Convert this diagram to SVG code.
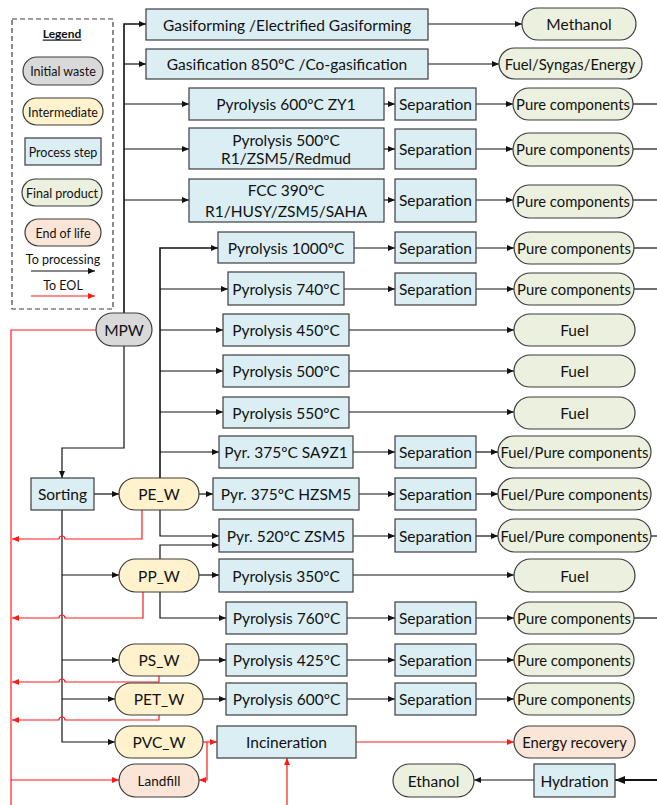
<svg xmlns="http://www.w3.org/2000/svg" width="657" height="805" viewBox="0 0 657 805">
<style>
text{font-family:Lato,"Liberation Sans",sans-serif;font-size:15.5px;fill:#111;text-anchor:middle;dominant-baseline:central}
.lg text{font-size:12.5px}
.pc{font-size:14.8px}
rect{stroke:#3c3c3c;stroke-width:1.2}
.proc{fill:#dbeef4}
.fin{fill:#ebf1de}
.int{fill:#fff2cc}
.init{fill:#d9d9d9}
.eol{fill:#fbe5d6}
.k{fill:none;stroke:#111;stroke-width:1.2}
.t{stroke-width:1.6}
.r{fill:none;stroke:#ff1a1a;stroke-width:1.2}
.ka{marker-end:url(#ab)}
.ra{marker-end:url(#ar)}
</style>
<defs>
<marker id="ab" markerWidth="8" markerHeight="8" refX="7" refY="4" orient="auto" markerUnits="userSpaceOnUse"><path d="M0,1 L7,4 L0,7 z" fill="#111"/></marker>
<marker id="ar" markerWidth="8" markerHeight="8" refX="7" refY="4" orient="auto" markerUnits="userSpaceOnUse"><path d="M0,1 L7,4 L0,7 z" fill="#ff1a1a"/></marker>
<marker id="abig" markerWidth="12" markerHeight="12" refX="10" refY="5" orient="auto" markerUnits="userSpaceOnUse"><path d="M0,1 L10,5 L0,9 z" fill="#111"/></marker>
</defs>

<g id="legend" class="lg">
<rect x="12" y="19" width="101" height="290" fill="none" stroke="#444" stroke-dasharray="5,3"/>
<text x="62" y="33" font-weight="bold" text-decoration="underline" style="font-size:12px">Legend</text>
<rect class="init" x="23" y="57" width="80" height="28" rx="14"/><text x="63" y="71">Initial waste</text>
<rect class="int" x="23" y="98" width="80" height="27" rx="13.5"/><text x="63" y="112">Intermediate</text>
<rect class="proc" x="25" y="138" width="76" height="27"/><text x="63" y="152">Process step</text>
<rect class="fin" x="22" y="179" width="80" height="27" rx="13.5"/><text x="62" y="193">Final product</text>
<rect class="eol" x="25" y="219" width="76" height="27" rx="13.5"/><text x="63" y="233">End of life</text>
<text x="63" y="259">To processing</text>
<path class="k ka" d="M31,271 H95"/>
<text x="63" y="285">To EOL</text>
<path class="r ra" d="M31,296 H95"/>
</g>

<g id="connectors">
<path class="k t ka" d="M124,313 V24 H146"/>
<path class="k ka" d="M124,64 H146"/>
<path class="k ka" d="M124,104 H189"/>
<path class="k ka" d="M124,149 H189"/>
<path class="k ka" d="M124,200 H189"/>
<path class="k ka" d="M428,24 H522"/>
<path class="k ka" d="M428,64 H499"/>
<path class="k ka" d="M384,104 H395"/><path class="k ka" d="M476,104 H513"/><path class="k" d="M633,104 H657"/>
<path class="k ka" d="M384,149 H395"/><path class="k ka" d="M476,149 H513"/><path class="k" d="M633,149 H657"/>
<path class="k ka" d="M384,200 H395"/><path class="k ka" d="M476,200 H513"/><path class="k" d="M633,200 H657"/>
<path class="k t ka" d="M160,478 V248 H218"/>
<path class="k ka" d="M160,289 H228"/>
<path class="k ka" d="M160,330 H223"/>
<path class="k ka" d="M160,371 H223"/>
<path class="k ka" d="M160,412 H223"/>
<path class="k ka" d="M160,452 H219"/>
<path class="k ka" d="M354,248 H395"/><path class="k ka" d="M476,248 H514"/><path class="k" d="M634,248 H657"/>
<path class="k ka" d="M344,289 H395"/><path class="k ka" d="M476,289 H514"/><path class="k" d="M634,289 H657"/>
<path class="k ka" d="M349,330 H514"/>
<path class="k ka" d="M349,371 H514"/>
<path class="k ka" d="M349,412 H514"/>
<path class="k ka" d="M353,452 H395"/><path class="k ka" d="M476,452 H498"/>
<path class="k ka" d="M199,494 H213"/><path class="k ka" d="M359,494 H395"/><path class="k ka" d="M476,494 H498"/>
<path class="k ka" d="M160,510 V536 H219"/>
<path class="k ka" d="M160,559 V545 H219"/>
<path class="k ka" d="M353,536 H395"/><path class="k ka" d="M476,536 H498"/><path class="k" d="M651,536 H657"/>
<path class="k ka" d="M124,346 V448 H62 V478"/>
<path class="k ka" d="M94,494 H119"/>
<path class="k ka" d="M62,510 V742 H115"/>
<path class="k ka" d="M62,575 H119"/>
<path class="k ka" d="M62,660 H119"/>
<path class="k ka" d="M62,699 H115"/>
<path class="k ka" d="M199,575 H219"/><path class="k ka" d="M353,575 H514"/>
<path class="k ka" d="M160,592 V618 H226"/><path class="k ka" d="M347,618 H395"/><path class="k ka" d="M476,618 H514"/><path class="k" d="M634,618 H657"/>
<path class="k ka" d="M199,660 H226"/><path class="k ka" d="M347,660 H395"/><path class="k ka" d="M476,660 H514"/>
<path class="k ka" d="M203,699 H226"/><path class="k ka" d="M347,699 H395"/><path class="k ka" d="M476,699 H514"/>
<path class="k" d="M657,780 H615" style="stroke-width:2.2;marker-end:url(#abig)"/>
<path class="k ka" d="M534,780 H474"/>
<path class="r" d="M96,330 H11 V805"/>
<path class="r ra" d="M11,780 H119"/>
<path class="r ra" d="M142,510 V539 H65 A3,3 0 0 0 59,539 H12"/>
<path class="r ra" d="M143,592 V618 H65 A3,3 0 0 0 59,618 H12"/>
<path class="r ra" d="M159,676 V682 H65 A3,3 0 0 0 59,682 H12"/>
<path class="r ra" d="M159,715 V720 H65 A3,3 0 0 0 59,720 H12"/>
<path class="r ra" d="M203,742 H217"/>
<path class="r ra" d="M207,742 V780 H199"/>
<path class="r ra" d="M356,742 H514"/>
<path class="r ra" d="M287,805 V758"/>
</g>

<g id="n-gasiforming"><rect class="proc" x="146" y="9" width="282" height="31"/><text x="287" y="24.5">Gasiforming /Electrified Gasiforming</text></g>
<g id="n-methanol"><rect class="fin" x="522" y="8" width="114" height="32" rx="16"/><text x="579" y="24">Methanol</text></g>
<g id="n-gasification"><rect class="proc" x="146" y="49" width="282" height="30"/><text x="287" y="64">Gasification 850ºC /Co-gasification</text></g>
<g id="n-fuelsyngas"><rect class="fin" x="499" y="48" width="143" height="31" rx="15.5"/><text class="pc" x="570" y="64">Fuel/Syngas/Energy</text></g>

<g id="n-pyr600zy1"><rect class="proc" x="189" y="88" width="195" height="32"/><text x="286" y="104">Pyrolysis 600ºC ZY1</text></g>
<g id="n-sep1"><rect class="proc" x="395" y="88" width="81" height="32"/><text x="435.5" y="104">Separation</text></g>
<g id="n-pure1"><rect class="fin" x="513" y="88" width="120" height="32" rx="16"/><text class="pc" x="573" y="104">Pure components</text></g>

<g id="n-pyr500r1"><rect class="proc" x="189" y="128" width="195" height="41"/><text x="286" y="140">Pyrolysis 500ºC</text><text x="286" y="158">R1/ZSM5/Redmud</text></g>
<g id="n-sep2"><rect class="proc" x="395" y="129" width="81" height="40"/><text x="435.5" y="149">Separation</text></g>
<g id="n-pure2"><rect class="fin" x="513" y="133" width="120" height="33" rx="16.5"/><text class="pc" x="573" y="149">Pure components</text></g>

<g id="n-fcc"><rect class="proc" x="189" y="179" width="195" height="43"/><text x="286" y="190">FCC 390ºC</text><text x="286" y="211">R1/HUSY/ZSM5/SAHA</text></g>
<g id="n-sep3"><rect class="proc" x="395" y="179" width="81" height="43"/><text x="435.5" y="200">Separation</text></g>
<g id="n-pure3"><rect class="fin" x="513" y="185" width="120" height="33" rx="16.5"/><text class="pc" x="573" y="201">Pure components</text></g>

<g id="n-pyr1000"><rect class="proc" x="218" y="232" width="136" height="31"/><text x="286" y="248">Pyrolysis 1000ºC</text></g>
<g id="n-sep4"><rect class="proc" x="395" y="232" width="81" height="31"/><text x="435.5" y="248">Separation</text></g>
<g id="n-pure4"><rect class="fin" x="514" y="232" width="120" height="32" rx="16"/><text class="pc" x="574" y="248">Pure components</text></g>

<g id="n-pyr740"><rect class="proc" x="228" y="272" width="116" height="33"/><text x="286" y="289">Pyrolysis 740ºC</text></g>
<g id="n-sep5"><rect class="proc" x="395" y="273" width="81" height="32"/><text x="435.5" y="289">Separation</text></g>
<g id="n-pure5"><rect class="fin" x="514" y="273" width="120" height="32" rx="16"/><text class="pc" x="574" y="289">Pure components</text></g>

<g id="n-pyr450"><rect class="proc" x="223" y="314" width="126" height="32"/><text x="286" y="330">Pyrolysis 450ºC</text></g>
<g id="n-fuel1"><rect class="fin" x="514" y="314" width="121" height="32" rx="16"/><text x="574.5" y="330">Fuel</text></g>
<g id="n-pyr500"><rect class="proc" x="223" y="355" width="126" height="32"/><text x="286" y="371">Pyrolysis 500ºC</text></g>
<g id="n-fuel2"><rect class="fin" x="514" y="355" width="121" height="32" rx="16"/><text x="574.5" y="371">Fuel</text></g>
<g id="n-pyr550"><rect class="proc" x="223" y="397" width="126" height="31"/><text x="286" y="412.5">Pyrolysis 550ºC</text></g>
<g id="n-fuel3"><rect class="fin" x="514" y="397" width="121" height="32" rx="16"/><text x="574.5" y="413">Fuel</text></g>

<g id="n-pyr375sa"><rect class="proc" x="219" y="436" width="134" height="32"/><text x="286" y="452">Pyr. 375ºC SA9Z1</text></g>
<g id="n-sep6"><rect class="proc" x="395" y="436" width="81" height="32"/><text x="435.5" y="452">Separation</text></g>
<g id="n-fp1"><rect class="fin" x="498" y="436" width="153" height="32" rx="16"/><text class="pc" x="574.5" y="452">Fuel/Pure components</text></g>

<g id="n-pyr375hz"><rect class="proc" x="213" y="478" width="146" height="32"/><text x="286" y="494">Pyr. 375ºC HZSM5</text></g>
<g id="n-sep7"><rect class="proc" x="395" y="478" width="81" height="32"/><text x="435.5" y="494">Separation</text></g>
<g id="n-fp2"><rect class="fin" x="498" y="478" width="153" height="32" rx="16"/><text class="pc" x="574.5" y="494">Fuel/Pure components</text></g>

<g id="n-pyr520"><rect class="proc" x="219" y="519" width="134" height="33"/><text x="286" y="535.5">Pyr. 520ºC ZSM5</text></g>
<g id="n-sep8"><rect class="proc" x="395" y="519" width="81" height="33"/><text x="435.5" y="535.5">Separation</text></g>
<g id="n-fp3"><rect class="fin" x="498" y="519" width="153" height="33" rx="16.5"/><text class="pc" x="574.5" y="535.5">Fuel/Pure components</text></g>

<g id="n-pyr350"><rect class="proc" x="219" y="559" width="134" height="33"/><text x="286" y="575.5">Pyrolysis 350ºC</text></g>
<g id="n-fuel4"><rect class="fin" x="514" y="559" width="121" height="33" rx="16.5"/><text x="574.5" y="575.5">Fuel</text></g>

<g id="n-pyr760"><rect class="proc" x="226" y="602" width="121" height="32"/><text x="286.5" y="618">Pyrolysis 760ºC</text></g>
<g id="n-sep9"><rect class="proc" x="395" y="602" width="81" height="32"/><text x="435.5" y="618">Separation</text></g>
<g id="n-pure6"><rect class="fin" x="514" y="602" width="120" height="32" rx="16"/><text class="pc" x="574" y="618">Pure components</text></g>

<g id="n-pyr425"><rect class="proc" x="226" y="644" width="121" height="32"/><text x="286.5" y="660">Pyrolysis 425ºC</text></g>
<g id="n-sep10"><rect class="proc" x="395" y="644" width="81" height="32"/><text x="435.5" y="660">Separation</text></g>
<g id="n-pure7"><rect class="fin" x="514" y="644" width="120" height="32" rx="16"/><text class="pc" x="574" y="660">Pure components</text></g>

<g id="n-pyr600"><rect class="proc" x="226" y="683" width="121" height="32"/><text x="286.5" y="699">Pyrolysis 600ºC</text></g>
<g id="n-sep11"><rect class="proc" x="395" y="683" width="81" height="32"/><text x="435.5" y="699">Separation</text></g>
<g id="n-pure8"><rect class="fin" x="514" y="683" width="120" height="32" rx="16"/><text class="pc" x="574" y="699">Pure components</text></g>

<g id="n-incineration"><rect class="proc" x="217" y="726" width="139" height="32"/><text x="286.5" y="742">Incineration</text></g>
<g id="n-energy"><rect class="eol" x="514" y="726" width="121" height="32" rx="16"/><text class="pc" x="574.5" y="742">Energy recovery</text></g>

<g id="n-mpw"><rect class="init" x="96" y="313" width="56" height="33" rx="16.5"/><text x="124" y="330">MPW</text></g>
<g id="n-sorting"><rect class="proc" x="31" y="478" width="63" height="32"/><text x="62.5" y="494">Sorting</text></g>
<g id="n-pe"><rect class="int" x="119" y="478" width="80" height="32" rx="16"/><text x="159" y="494">PE_W</text></g>
<g id="n-pp"><rect class="int" x="119" y="559" width="80" height="33" rx="16.5"/><text x="159" y="575.5">PP_W</text></g>
<g id="n-ps"><rect class="int" x="119" y="644" width="80" height="32" rx="16"/><text x="159" y="660">PS_W</text></g>
<g id="n-pet"><rect class="int" x="115" y="683" width="88" height="32" rx="16"/><text x="159" y="699">PET_W</text></g>
<g id="n-pvc"><rect class="int" x="115" y="726" width="88" height="32" rx="16"/><text x="159" y="742">PVC_W</text></g>
<g id="n-landfill"><rect class="eol" x="119" y="764" width="80" height="33" rx="16.5"/><text x="159" y="780.5" style="font-size:13.5px">Landfill</text></g>

<g id="n-hydration"><rect class="proc" x="534" y="764" width="81" height="33"/><text x="574.5" y="780.5">Hydration</text></g>
<g id="n-ethanol"><rect class="fin" x="393" y="764" width="81" height="33" rx="16.5"/><text x="433.5" y="780.5">Ethanol</text></g>
</svg>
